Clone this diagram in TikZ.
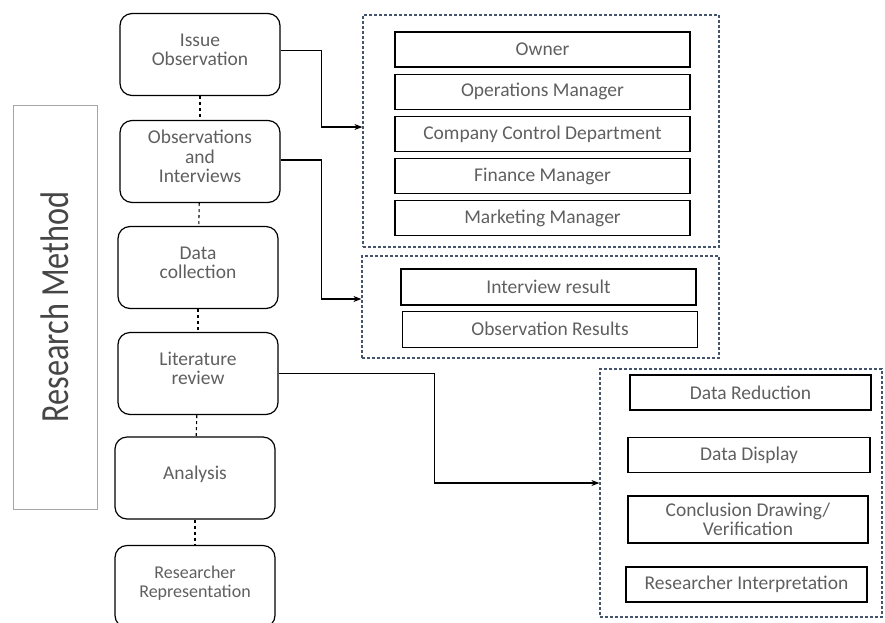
\documentclass[tikz,border=0pt]{standalone}
\usepackage{fontspec}
\setmainfont{Carlito}
\usepackage{xcolor}
\usepackage{tikz}
\usetikzlibrary{
	positioning,    % posizionamento relativo (below=of)
	arrows.meta     % punte di freccia (Stealth)
}
\definecolor{testo}{RGB}{95,95,95}
\definecolor{titolo}{RGB}{70,70,70}
\definecolor{cornice}{RGB}{68,84,106}

\begin{document}
\begin{tikzpicture}[
			x=1pt, y=-1pt,
			node distance=6pt,
			% Fasi del metodo (riquadri arrotondati)
			fase/.style={
				draw, line width=1.2pt, rounded corners=12pt,
				minimum width=160pt, minimum height=82pt,
				align=center, text=testo, text depth=10pt,
				font=\fontsize{19.5}{19.5}\selectfont
			},
			% Voci interne ai gruppi
			voce/.style={
				draw, line width=1.2pt,
				minimum width=295pt, minimum height=35pt,
				align=center, text=testo,
				font=\fontsize{19.5}{19.5}\selectfont
			},
			gruppo/.style={draw=cornice, line width=1.2pt, dash pattern=on 3pt off 2pt},
			freccia/.style={-{Stealth[length=8pt, width=6pt]}, line width=1.2pt},
			collegamento/.style={dashed, line width=1.1pt}
			]
			
			\clip (0,0) rectangle (885,622);
			
			% --- Titolo laterale ---
			\node[draw=gray!70, line width=0.8pt, rotate=90,
			minimum width=404pt, minimum height=84pt, text=titolo,
			font=\fontsize{38}{40}\selectfont] (metodo) at (55,307) {\scalebox{0.85}[1.05]{Research Method}};
			
			% --- Fasi ---
			\node[fase] (issue) at (200,54.5) {Issue\\Observation};
			\node[fase] (osserv) at (200,161.5) {Observations\\and\\Interviews};
			\node[fase] (dati) at (198,267.5) {Data\\collection};
			\node[fase] (lett) at (198,373.5) {Literature\\review};
			\node[fase] (analisi) at (195,478) {Analysis};
			\node[fase, font=\fontsize{18}{18.5}\selectfont] (ricerc) at (195,586.5) {Researcher\\Representation};
			
			\draw[collegamento] (issue) -- (osserv);
			\draw[collegamento] (osserv) -- (dati);
			\draw[collegamento] (dati) -- (lett);
			\draw[collegamento] (lett) -- (analisi);
			\draw[collegamento] (analisi) -- (ricerc);
			
			% --- Gruppo 1: informatori ---
			\node[gruppo, minimum width=356pt, minimum height=232pt] (g1) at (541,131) {};
			\node[voce] (owner) at (542.5,49.5) {Owner};
			\node[voce, below=of owner] (oper) {Operations Manager};
			\node[voce, below=of oper] (ctrl) {Company Control Department};
			\node[voce, below=of ctrl] (fin) {Finance Manager};
			\node[voce, below=of fin] (mkt) {Marketing Manager};
			
			% --- Gruppo 2: risultati ---
			\node[gruppo, minimum width=357pt, minimum height=102pt] (g2) at (540.5,307) {};
			\node[voce, minimum height=36pt] (intv) at (548.5,287) {Interview result};
			\node[voce, minimum height=36pt, below=5pt of intv, xshift=1.5pt] (obsr) {Observation Results};
			
			% --- Gruppo 3: analisi dei dati ---
			\node[gruppo, minimum width=282pt, minimum height=248pt] (g3) at (741,493) {};
			\node[voce, minimum width=241pt] (ridu) at (750.5,392.5) {Data Reduction};
			\node[voce, minimum width=242pt] (displ) at (749,455) {Data Display};
			\node[voce, minimum width=240pt, minimum height=47pt] (concl) at (748,519.5) {Conclusion Drawing/\\Verification};
			\node[voce, minimum width=241pt] (interp) at (746.5,584.5) {Researcher Interpretation};
			
			% --- Frecce ---
			\draw[freccia] ([yshift=4pt]issue.east) -- ++(41,0) |- ([yshift=4pt]g1.west);
			\draw[freccia] ([yshift=1.5pt]osserv.east) -- ++(41,0) |- ([yshift=8pt]g2.west);
			\draw[freccia] (lett.east) -- ++(156,0) |- ([yshift=10pt]g3.west);
			
		\end{tikzpicture}
\end{document}
